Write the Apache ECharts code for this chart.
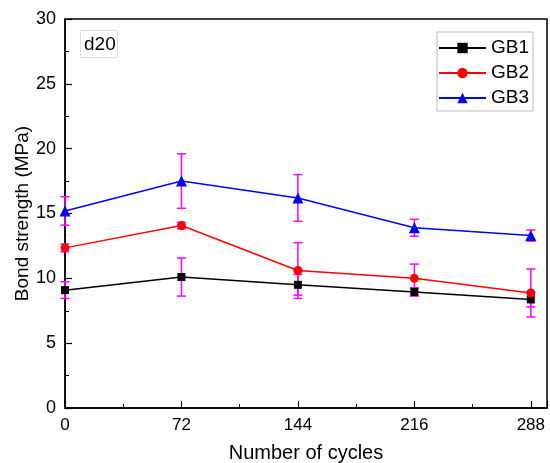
<!DOCTYPE html>
<html>
<head>
<meta charset="utf-8">
<script src="https://cdn.jsdelivr.net/npm/echarts@6/dist/echarts.min.js"></script>
<style>
html, body { margin: 0; padding: 0; background: #fff; }
#chart { width: 550px; height: 463px; }
</style>
</head>
<body>
<div id="chart"></div>
<script>
// number of cycles
const cycles = [0, 72, 144, 216, 288]
// bond strength (MPa) and error (+/-)
const gb1 = [9.09, 10.1, 9.5, 8.95, 8.37]
const gb1Err = [0.64, 1.47, 0.8, 0.32, 0.57]
const gb2 = [12.35, 14.07, 10.6, 10.0, 8.87]
const gb2Err = [0.3, 0.25, 2.15, 1.1, 1.85]
const gb3 = [15.2, 17.5, 16.2, 13.9, 13.3]
const gb3Err = [1.1, 2.1, 1.8, 0.65, 0.43]
const xTicks = [0, 72, 144, 216, 288]

const font = 'Liberation Sans, Arial, sans-serif'
const errColor = '#ff00ff'

function pairs (ys) {
  return cycles.map((x, i) => [x, ys[i]])
}

function errData (ys, errs) {
  return cycles.map((x, i) => [x, ys[i] - errs[i], ys[i] + errs[i]])
}

function renderErr (params, api) {
  let x = api.value(0)
  let lo = api.coord([x, api.value(1)])
  let hi = api.coord([x, api.value(2)])
  let w = 4.5
  let style = { stroke: errColor, lineWidth: 1.5 }
  return {
    type: 'group',
    children: [
      { type: 'line', shape: { x1: lo[0], y1: lo[1], x2: hi[0], y2: hi[1] }, style: style },
      { type: 'line', shape: { x1: lo[0] - w, y1: lo[1], x2: lo[0] + w, y2: lo[1] }, style: style },
      { type: 'line', shape: { x1: hi[0] - w, y1: hi[1], x2: hi[0] + w, y2: hi[1] }, style: style }
    ]
  }
}

function lineSeries (name, ys, color, symbol, size) {
  return {
    name: name,
    type: 'line',
    data: pairs(ys),
    symbol: symbol,
    symbolSize: size,
    showAllSymbol: true,
    z: 5,
    lineStyle: { color: color, width: 1.5 },
    itemStyle: { color: color }
  }
}

function errSeries (ys, errs) {
  return {
    type: 'custom',
    data: errData(ys, errs),
    renderItem: renderErr,
    encode: { x: 0, y: [1, 2] },
    z: 3,
    silent: true
  }
}

let dom = echarts.init(document.getElementById('chart'))
let option = {
  animation: false,
  textStyle: { fontFamily: font },
  title: {
    text: 'd20',
    left: 80,
    top: 30,
    padding: [5, 2, 4, 4],
    borderColor: '#ddd',
    borderWidth: 1,
    textStyle: { fontFamily: font, fontSize: 19, fontWeight: 'normal', color: '#000', lineHeight: 19 }
  },
  legend: {
    orient: 'vertical',
    left: 437,
    top: 32,
    padding: [6, 4, 3, 1],
    itemGap: 5,
    itemWidth: 47,
    itemHeight: 13,
    borderColor: '#bbb',
    borderWidth: 1,
    backgroundColor: '#fff',
    data: ['GB1', 'GB2', 'GB3'],
    textStyle: { fontFamily: font, fontSize: 19, color: '#000', lineHeight: 20, padding: [0, 0, 0, 0] }
  },
  grid: {
    left: 65,
    top: 19,
    right: 3,
    bottom: 55,
    outerBoundsMode: 'none',
    show: true,
    borderColor: '#000',
    borderWidth: 1.5
  },
  xAxis: {
    type: 'value',
    min: 0,
    max: 298,
    interval: 72,
    name: 'Number of cycles',
    nameLocation: 'middle',
    nameGap: 35,
    nameMoveOverlap: false,
    nameTextStyle: { fontFamily: font, fontSize: 20, color: '#000' },
    axisLine: { show: true, lineStyle: { color: '#000', width: 1.5 } },
    axisTick: { inside: true, length: 7, lineStyle: { color: '#000', width: 1.2 } },
    minorTick: { show: true, splitNumber: 2, length: 4, lineStyle: { color: '#000', width: 1 } },
    splitLine: { show: false },
    axisLabel: {
      margin: 9,
      fontFamily: font,
      fontSize: 17,
      color: '#000',
      showMaxLabel: false,
      formatter: v => (xTicks.indexOf(v) >= 0 ? String(v) : '')
    }
  },
  yAxis: {
    type: 'value',
    min: 0,
    max: 30,
    interval: 5,
    name: 'Bond strength (MPa)',
    nameLocation: 'middle',
    nameGap: 33,
    nameMoveOverlap: false,
    nameTextStyle: { fontFamily: font, fontSize: 19, color: '#000' },
    axisLine: { show: true, lineStyle: { color: '#000', width: 1.5 } },
    axisTick: { inside: true, length: 7, lineStyle: { color: '#000', width: 1.2 } },
    minorTick: { show: true, splitNumber: 2, length: 4, lineStyle: { color: '#000', width: 1 } },
    splitLine: { show: false },
    axisLabel: { margin: 9, fontFamily: font, fontSize: 18, color: '#000' }
  },
  series: [
    errSeries(gb1, gb1Err),
    errSeries(gb2, gb2Err),
    errSeries(gb3, gb3Err),
    lineSeries('GB1', gb1, '#000000', 'rect', 8),
    lineSeries('GB2', gb2, '#ff0000', 'circle', 9),
    lineSeries('GB3', gb3, '#0000ff', 'triangle', 11)
  ]
}
dom.setOption(option)
</script>
</body>
</html>
